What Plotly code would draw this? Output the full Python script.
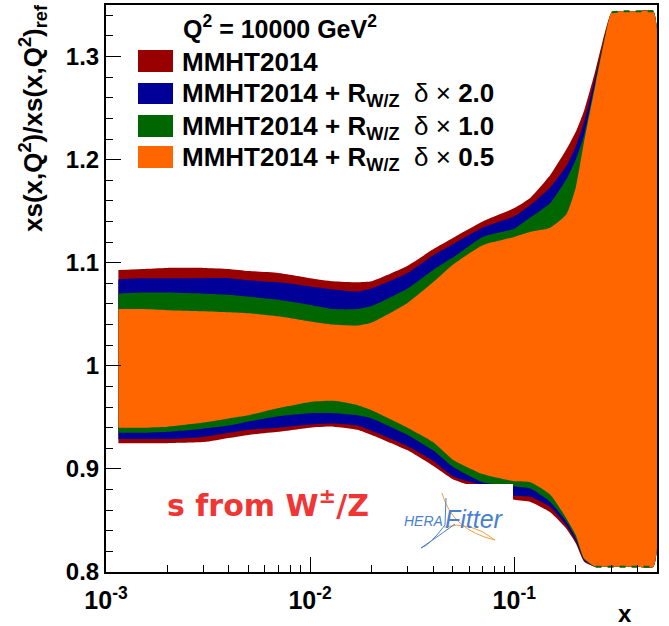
import plotly.graph_objects as go

# ---------------- data ----------------
x = [0.00115, 0.0015, 0.002, 0.003, 0.004, 0.005, 0.007, 0.01, 0.013, 0.017, 0.02,
     0.03, 0.04, 0.05, 0.07, 0.1, 0.12, 0.15, 0.18, 0.2, 0.22, 0.25, 0.28, 0.3,
     0.35, 0.4, 0.48]

mmht_up = [1.093, 1.094, 1.095, 1.095, 1.094, 1.092, 1.090, 1.085, 1.082, 1.081, 1.082,
           1.097, 1.113, 1.124, 1.140, 1.153, 1.163, 1.185, 1.210, 1.227, 1.248, 1.287,
           1.326, 1.343, 1.344, 1.344, 1.344]
mmht_lo = [0.925, 0.925, 0.925, 0.926, 0.930, 0.933, 0.936, 0.940, 0.941, 0.938, 0.933,
           0.918, 0.903, 0.890, 0.880, 0.870, 0.868, 0.858, 0.842, 0.828, 0.810, 0.805,
           0.805, 0.805, 0.805, 0.805, 0.805]

d20_up = [1.084, 1.085, 1.085, 1.085, 1.085, 1.083, 1.081, 1.077, 1.074, 1.072, 1.075,
          1.090, 1.107, 1.118, 1.134, 1.145, 1.156, 1.173, 1.194, 1.213, 1.237, 1.281,
          1.321, 1.342, 1.344, 1.344, 1.344]
d20_lo = [0.929, 0.929, 0.929, 0.931, 0.935, 0.938, 0.940, 0.943, 0.944, 0.942, 0.937,
          0.922, 0.908, 0.893, 0.884, 0.874, 0.873, 0.863, 0.845, 0.830, 0.811, 0.805,
          0.805, 0.805, 0.805, 0.805, 0.805]

d10_up = [1.070, 1.071, 1.071, 1.070, 1.069, 1.067, 1.064, 1.059, 1.055, 1.055, 1.058,
          1.075, 1.093, 1.105, 1.125, 1.133, 1.144, 1.158, 1.181, 1.200, 1.224, 1.276,
          1.323, 1.343, 1.344, 1.344, 1.344]
d10_lo = [0.935, 0.935, 0.936, 0.939, 0.942, 0.946, 0.951, 0.954, 0.954, 0.952, 0.949,
          0.933, 0.918, 0.902, 0.887, 0.883, 0.881, 0.868, 0.849, 0.833, 0.812, 0.805,
          0.805, 0.805, 0.805, 0.805, 0.805]

d05_up = [1.055, 1.055, 1.054, 1.053, 1.052, 1.051, 1.048, 1.043, 1.040, 1.039, 1.042,
          1.061, 1.081, 1.098, 1.117, 1.125, 1.130, 1.134, 1.147, 1.173, 1.218, 1.273,
          1.321, 1.343, 1.344, 1.344, 1.344]
d05_lo = [0.940, 0.940, 0.941, 0.945, 0.949, 0.952, 0.959, 0.965, 0.966, 0.962, 0.957,
          0.940, 0.926, 0.909, 0.895, 0.888, 0.887, 0.875, 0.852, 0.836, 0.813, 0.805,
          0.805, 0.805, 0.805, 0.805, 0.805]

band_names = ["MMHT2014",
              "MMHT2014 + R<sub>W/Z</sub> δ × 2.0",
              "MMHT2014 + R<sub>W/Z</sub> δ × 1.0",
              "MMHT2014 + R<sub>W/Z</sub> δ × 0.5"]
band_colors = ["#990000", "#000099", "#006600", "#ff6600"]
bands = [(mmht_up, mmht_lo), (d20_up, d20_lo), (d10_up, d10_lo), (d05_up, d05_lo)]

y_tickvals = [0.8, 0.9, 1.0, 1.1, 1.2, 1.3]
y_ticktext = ["0.8", "0.9", "1", "1.1", "1.2", "1.3"]
x_tickvals = [1e-3, 1e-2, 1e-1]
x_ticktext = ["10<sup>-3</sup>", "10<sup>-2</sup>", "10<sup>-1</sup>"]
x_minor = [m * 10.0 ** e for e in (-3, -2) for m in range(2, 10)] + [0.2, 0.3, 0.4]

FONT = "Liberation Sans, Arial, Helvetica, sans-serif"

fig = go.Figure()
for (up, lo), name, col in zip(bands, band_names, band_colors):
    fig.add_trace(go.Scatter(
        x=x + x[::-1], y=up + lo[::-1], fill="toself", fillcolor=col,
        mode="lines", line=dict(width=0, color=col, shape="spline", smoothing=0.5),
        name=name, showlegend=False, hoverinfo="skip"))

# dashed edges where the bands are clipped together
i_top = next(i for i, v in enumerate(d10_up) if v >= 1.343)
i_bot = next(i for i, v in enumerate(d10_lo) if v <= 0.805)
fig.add_trace(go.Scatter(x=x[i_top:], y=d10_up[i_top:], mode="lines",
                         line=dict(color="#006600", width=2, dash="6px,6px"),
                         showlegend=False, hoverinfo="skip"))
fig.add_trace(go.Scatter(x=x[i_bot:], y=d10_lo[i_bot:], mode="lines",
                         line=dict(color="#006600", width=2, dash="6px,6px"),
                         showlegend=False, hoverinfo="skip"))

# ---------------- layout ----------------
L, R, T, B = 106, 12, 5, 54
W, H = 669, 626
pw, ph = W - L - R, H - T - B


def px(xp):
    return (xp - L) / pw


def py(yp):
    return (H - B - yp) / ph


shapes = []
annotations = []

# legend boxes + labels
rows = [(50, 72), (83, 104), (115, 137), (146, 168)]
for (y0, y1), col, name in zip(rows, band_colors, band_names):
    shapes.append(dict(type="rect", xref="paper", yref="paper",
                       x0=px(138), x1=px(173), y0=py(y1), y1=py(y0),
                       fillcolor=col, line=dict(width=0)))
    if "δ" in name:
        base, fac = name.split(" δ × ")
        txt = "<b>" + base + "</b>  δ × <b>" + fac + "</b>"
    else:
        txt = "<b>" + name + "</b>"
    annotations.append(dict(xref="paper", yref="paper", x=px(180), y=py((y0 + y1) / 2 + 1),
                            xanchor="left", yanchor="middle", showarrow=False, text=txt,
                            font=dict(family=FONT, size=26, color="black")))

annotations.append(dict(xref="paper", yref="paper", x=px(181), y=py(27),
                        xanchor="left", yanchor="middle", showarrow=False,
                        text="<b>Q<sup>2</sup> = 10000 GeV<sup>2</sup></b>",
                        font=dict(family=FONT, size=25, color="black")))

# y-axis title (ROOT style, right-aligned to the top)
annotations.append(dict(xref="paper", yref="paper", x=px(33), y=py(2),
                        xanchor="center", yanchor="top", showarrow=False, textangle=-90,
                        text="<b>xs(x,Q<sup>2</sup>)/xs(x,Q<sup>2</sup>)<sub>ref</sub></b>",
                        font=dict(family=FONT, size=26, color="black")))
# x-axis title
annotations.append(dict(xref="paper", yref="paper", x=px(625), y=py(614),
                        xanchor="center", yanchor="middle", showarrow=False,
                        text="<b>x</b>", font=dict(family=FONT, size=24, color="black")))

# red label
annotations.append(dict(xref="paper", yref="paper", x=px(268), y=py(503),
                        xanchor="center", yanchor="middle", showarrow=False,
                        text="<b>s from W<sup>±</sup>/Z</b>",
                        font=dict(family="Comic Sans MS, DejaVu Sans, sans-serif", size=30,
                                  color="#f03535")))

# HERAFitter logo (white backdrop + text)
shapes.append(dict(type="rect", xref="paper", yref="paper", layer="above",
                   x0=px(400), x1=px(513), y0=py(566), y1=py(484),
                   fillcolor="white", line=dict(width=0)))
annotations.append(dict(xref="paper", yref="paper", x=px(402), y=py(521),
                        xanchor="left", yanchor="middle", showarrow=False,
                        text="<i>HERA</i>", font=dict(family=FONT, size=14, color="#4a7fd0")))
annotations.append(dict(xref="paper", yref="paper", x=px(443), y=py(519),
                        xanchor="left", yanchor="middle", showarrow=False,
                        text="<i>Fitter</i>", font=dict(family=FONT, size=25, color="#4a7fd0")))
shapes.append(dict(type="path", xref="paper", yref="paper", layer="above",
                   path=f"M {px(442)},{py(493)} Q {px(452)},{py(530)} {px(495)},{py(540)} "
                        f"Q {px(470)},{py(520)} {px(444)},{py(527)}",
                   line=dict(color="#f0a040", width=1)))
shapes.append(dict(type="path", xref="paper", yref="paper", layer="above",
                   path=f"M {px(446)},{py(498)} L {px(445)},{py(525)} Q {px(430)},{py(545)} {px(421)},{py(548)} "
                        f"Q {px(440)},{py(535)} {px(455)},{py(524)}",
                   line=dict(color="#4a7fd0", width=1)))

fig.update_layout(
    width=W, height=H, margin=dict(l=L, r=R, t=T, b=B, autoexpand=False),
    paper_bgcolor="white", plot_bgcolor="white",
    shapes=shapes, annotations=annotations, showlegend=False,
    font=dict(family=FONT, color="black"),
    xaxis=dict(type="log", range=[-3, -0.30103], showgrid=False, zeroline=False,
               automargin=False,
               showline=True, linecolor="black", linewidth=2, mirror=True,
               ticks="inside", ticklen=15, tickwidth=1, tickcolor="black",
               tickvals=x_tickvals, ticktext=x_ticktext, ticklabelstandoff=5,
               tickfont=dict(family=FONT, size=25, color="black", weight="bold"),
               minor=dict(tickvals=x_minor, ticks="inside", ticklen=7, tickcolor="black",
                          showgrid=False)),
    yaxis=dict(range=[0.8, 1.35], showgrid=False, zeroline=False,
               automargin=False,
               showline=True, linecolor="black", linewidth=2, mirror=True,
               ticks="inside", ticklen=15, tickwidth=1, tickcolor="black",
               tickvals=y_tickvals, ticktext=y_ticktext,
               tickfont=dict(family=FONT, size=24, color="black", weight="bold"),
               minor=dict(dtick=0.02, ticks="inside", ticklen=7, tickcolor="black",
                          showgrid=False)),
)

fig.write_html("out.html", config={"displayModeBar": False},
               post_script="document.body.style.margin='0';document.body.style.overflow='hidden';")
